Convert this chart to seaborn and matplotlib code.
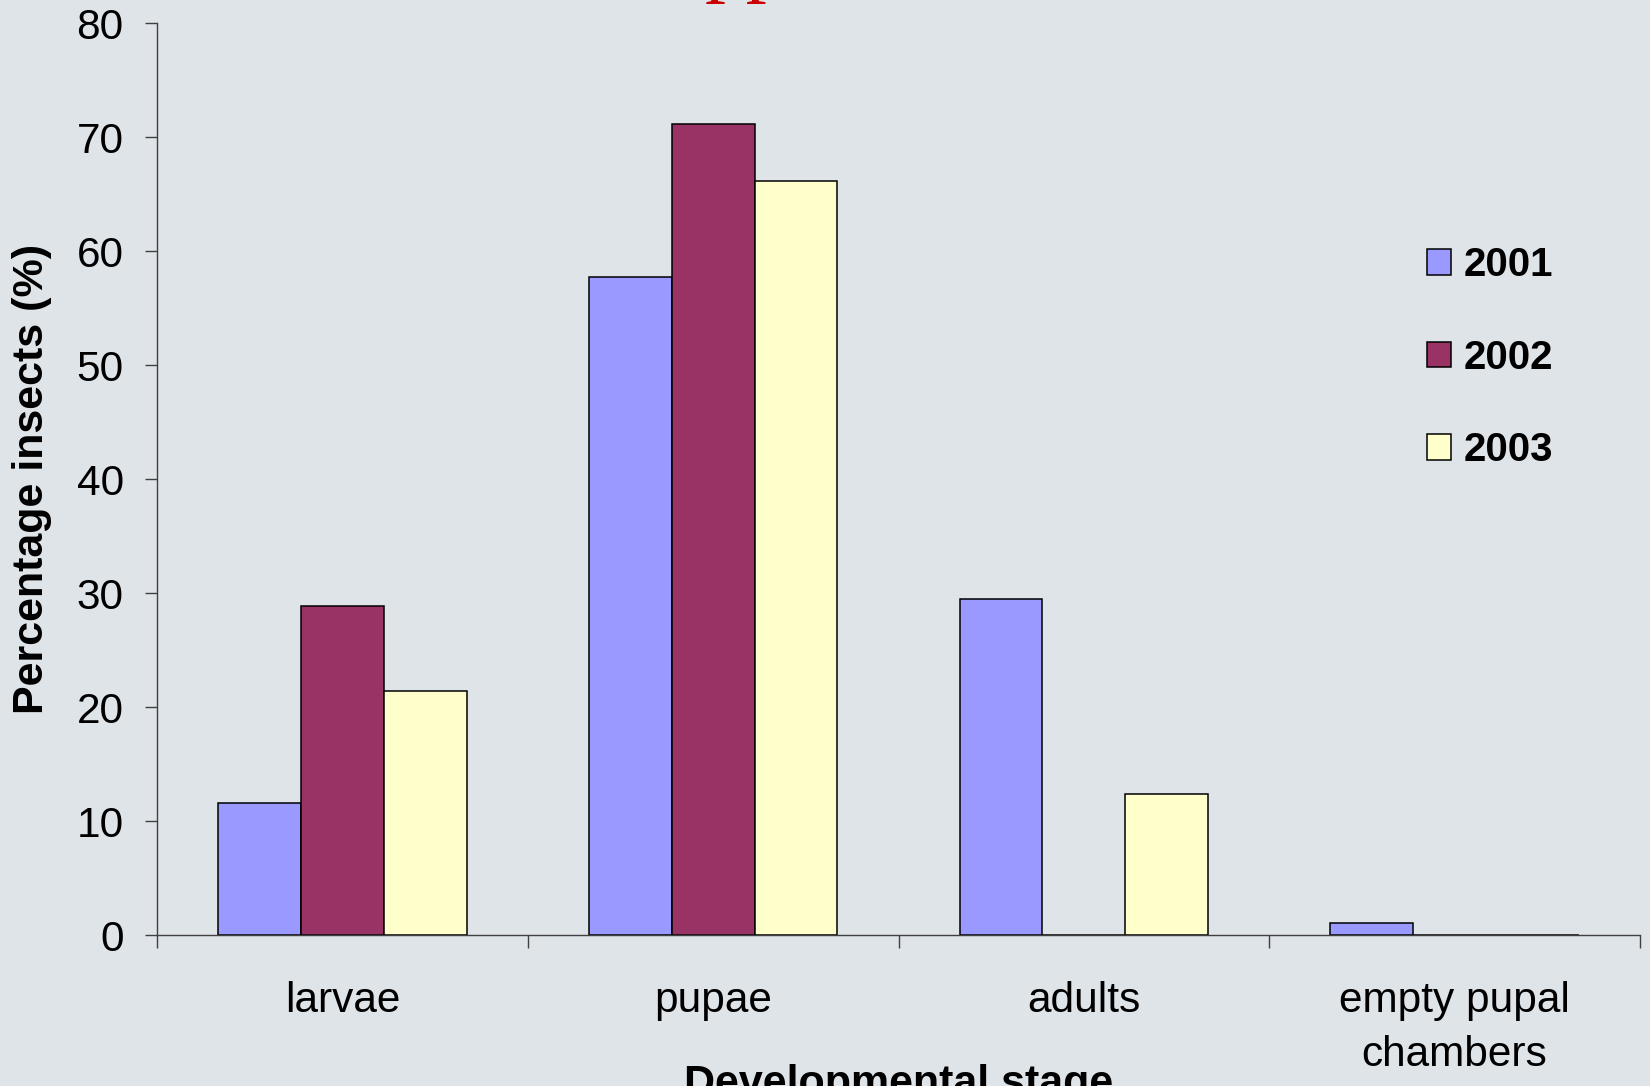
import matplotlib
matplotlib.use("Agg")
import matplotlib.pyplot as plt
import seaborn as sns
import pandas as pd
import numpy as np

# data
stages = ['larvae', 'pupae', 'adults', 'empty pupal\nchambers']
years = ['2001', '2002', '2003']
pct_2001 = [11.6, 57.7, 29.5, 1.1]
pct_2002 = [28.9, 71.1, 0.0, 0.0]
pct_2003 = [21.4, 66.1, 12.4, 0.0]
colors = ['#9999FF', '#993366', '#FFFFCC']
bg = '#DFE4E9'

df = pd.DataFrame({
    'stage': stages * 3,
    'year': [y for y in years for _ in stages],
    'pct': pct_2001 + pct_2002 + pct_2003,
})

sns.set_style('ticks')
plt.rcParams['font.family'] = ['Liberation Sans', 'DejaVu Sans']
plt.rcParams['text.color'] = 'black'
plt.rcParams['axes.labelcolor'] = 'black'
plt.rcParams['xtick.labelcolor'] = 'black'
plt.rcParams['ytick.labelcolor'] = 'black'

fig = plt.figure(figsize=(16.5, 10.86), dpi=100, facecolor=bg)
ax = fig.add_axes([0.0952, 0.139, 0.8987, 0.8398])
ax.set_facecolor(bg)

sns.barplot(data=df, x='stage', y='pct', hue='year', order=stages,
            hue_order=years, palette=colors, width=0.67,
            edgecolor='black', linewidth=1.1, saturation=1, ax=ax)

ax.set_xlim(-0.5, len(stages) - 0.5)
ax.set_ylim(0, 80)
ax.set_yticks(np.arange(0, 81, 10))
ax.tick_params(axis='y', labelsize=30.5, length=9, width=1, color='#404040', pad=15)
# category ticks between groups, labels centred under groups
ax.set_xticks(np.arange(-0.5, len(stages), 1.0), minor=True)
ax.tick_params(axis='x', which='minor', length=9, width=1, color='#404040', direction='out')
ax.tick_params(axis='x', which='major', length=0, labelsize=30.5, pad=33)
for lab in ax.get_xticklabels():
    lab.set_linespacing(1.45)

for s in ['top', 'right']:
    ax.spines[s].set_visible(False)
for s in ['left', 'bottom']:
    ax.spines[s].set_color('#404040')
    ax.spines[s].set_linewidth(1)

ax.set_ylabel('Percentage insects (%)', fontsize=31, fontweight='bold')
ax.yaxis.set_label_coords(-0.071, 0.5)
ax.set_xlabel('Developmental stage', fontsize=31, fontweight='bold', va='top')
ax.xaxis.set_label_coords(0.5, -0.141)

handles, labels = ax.get_legend_handles_labels()
ax.legend(handles, labels, loc='upper left', bbox_to_anchor=(0.832, 0.795),
          frameon=False, prop={'size': 29, 'weight': 'bold'},
          handlelength=0.6, handleheight=0.6, handletextpad=0.3,
          labelspacing=1.35)

# red title, cut off by the top edge
fig.text(0.427, 1 + 14 / 1086, 'pp', color='#CC0000', fontsize=60,
         family='Liberation Serif', va='baseline', ha='left')

fig.savefig('out.png', dpi=100, facecolor=bg)
